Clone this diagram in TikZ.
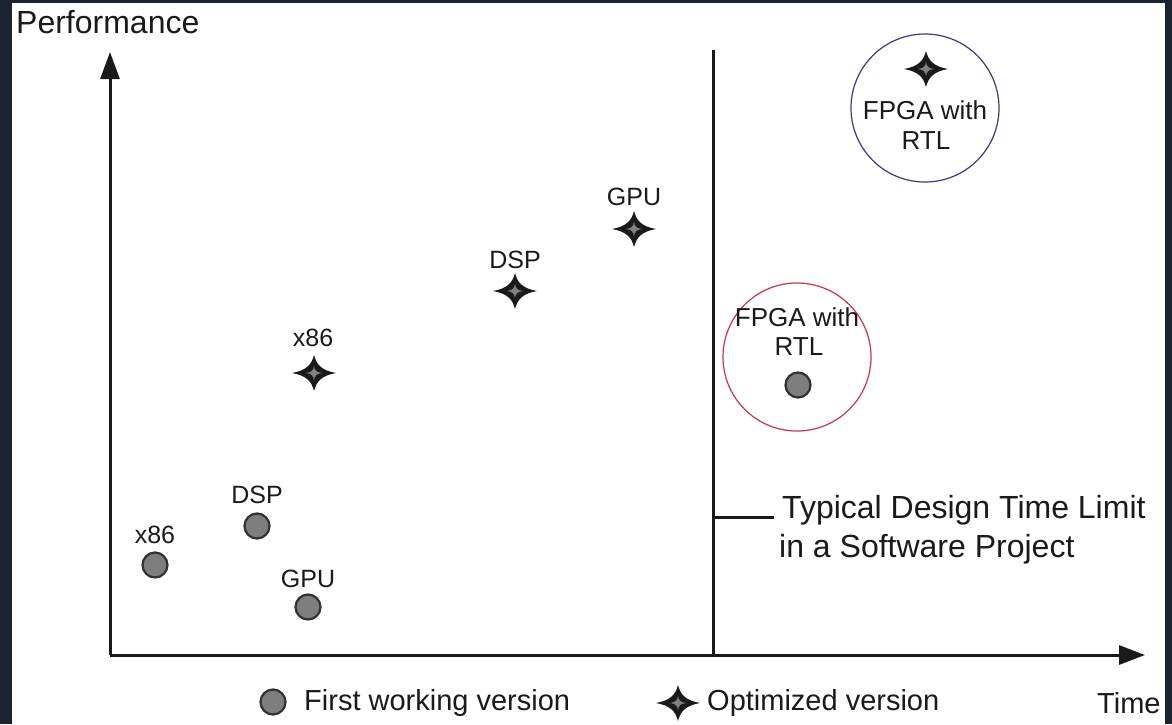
\documentclass[tikz,border=0pt]{standalone}
\usepackage{fontspec}
\setmainfont{Liberation Sans}
\usetikzlibrary{arrows.meta}
\definecolor{frame}{HTML}{1B2230}
\definecolor{ink}{HTML}{1A1A1A}
\definecolor{dotfill}{HTML}{7E7E7E}
\definecolor{bluec}{HTML}{3A3A86}
\definecolor{redc}{HTML}{C8344A}
\begin{document}
\begin{tikzpicture}[x=1pt,y=-1pt,
  axis/.style={line width=3pt,draw=ink},
  dot/.style={circle,fill=dotfill,draw=ink!90,line width=2.2pt,minimum size=25pt,inner sep=0},
  lbl/.style={font=\fontsize{25}{30}\selectfont,text=ink,inner sep=0},
  fpga/.style={font=\fontsize{26}{31}\selectfont,text=ink,inner sep=0},
  big/.style={font=\fontsize{32}{39}\selectfont,text=ink,inner sep=0},
  leg/.style={font=\fontsize{29}{35}\selectfont,text=ink,inner sep=0},
  ring/.style={circle,line width=1.2pt,minimum size=148pt,inner sep=0},
  optstar/.pic={
    \fill[ink] (-22,0) .. controls (-8,-2.5) and (-2.5,-8) .. (0,-18)
      .. controls (2.5,-8) and (8,-2.5) .. (22,0)
      .. controls (8,2.5) and (2.5,8) .. (0,18)
      .. controls (-2.5,8) and (-8,2.5) .. (-22,0) -- cycle;
    \fill[black!50] (-8,0) .. controls (-2.5,-.7) and (-.7,-2.5) .. (0,-7)
      .. controls (.7,-2.5) and (2.5,-.7) .. (8,0)
      .. controls (2.5,.7) and (.7,2.5) .. (0,7)
      .. controls (-.7,2.5) and (-2.5,.7) .. (-8,0) -- cycle;
  }]
\useasboundingbox (0,0) rectangle (1172,724);
\fill[frame] (0,0) rectangle (1172,724);
\fill[white] (12,3) rectangle (1165,724);

% axes
\coordinate (O) at (110,655);
\coordinate (ytop) at (110,52);
\coordinate (xend) at (1145,655);
\draw[axis,-{Triangle[length=27pt,width=19pt]}] (O) -- (ytop);
\draw[axis,-{Triangle[length=26pt,width=19pt]}] (O) -- (xend);
\node[big,anchor=base west] (perf) at (16,33) {Performance};
\node[leg,anchor=west] (time) at (1097,703) {Time};

% design time limit
\coordinate (limtop) at (713,50);
\coordinate (limbot) at (713,655);
\draw[axis] (limtop) -- (limbot);
\coordinate (tick0) at (713,517);
\coordinate (tick1) at (774,517);
\draw[axis] (tick0) -- (tick1);
\node[big,anchor=base west] (typ1) at (782,518) {Typical Design Time Limit};
\node[big,anchor=base west] (typ2) at (779,557) {in a Software Project};

% first working versions
\node[dot] (d86) at (155,565) {};
\node[lbl] (l86) at (155,535) {x86};
\node[dot] (ddsp) at (257,526) {};
\node[lbl] (ldsp) at (257,495) {DSP};
\node[dot] (dgpu) at (308,607) {};
\node[lbl] (lgpu) at (308,579) {GPU};

% optimized versions
\pic (s86) at (314,373) {optstar};
\node[lbl] (ls86) at (313,338) {x86};
\pic (sdsp) at (515,291) {optstar};
\node[lbl] (lsdsp) at (515,260) {DSP};
\pic (sgpu) at (634,229) {optstar};
\node[lbl] (lsgpu) at (634,197) {GPU};

% FPGA red
\node[ring,draw=redc] (redring) at (797,357) {};
\node[fpga] (rf1) at (797,317) {FPGA with};
\node[fpga] (rf2) at (799,347) {RTL};
\node[dot] (dfpga) at (798,385) {};

% FPGA blue
\node[ring,draw=bluec] (bluering) at (925,108) {};
\pic (sfpga) at (926,69) {optstar};
\node[fpga] (bf1) at (925,110) {FPGA with};
\node[fpga] (bf2) at (926,141) {RTL};

% legend
\node[dot] (legdot) at (273,702) {};
\node[leg,anchor=west] (legd) at (304,703) {First working version};
\pic (legstar) at (678,703) {optstar};
\node[leg,anchor=west] (legs) at (707,703) {Optimized version};
\end{tikzpicture}
\end{document}
